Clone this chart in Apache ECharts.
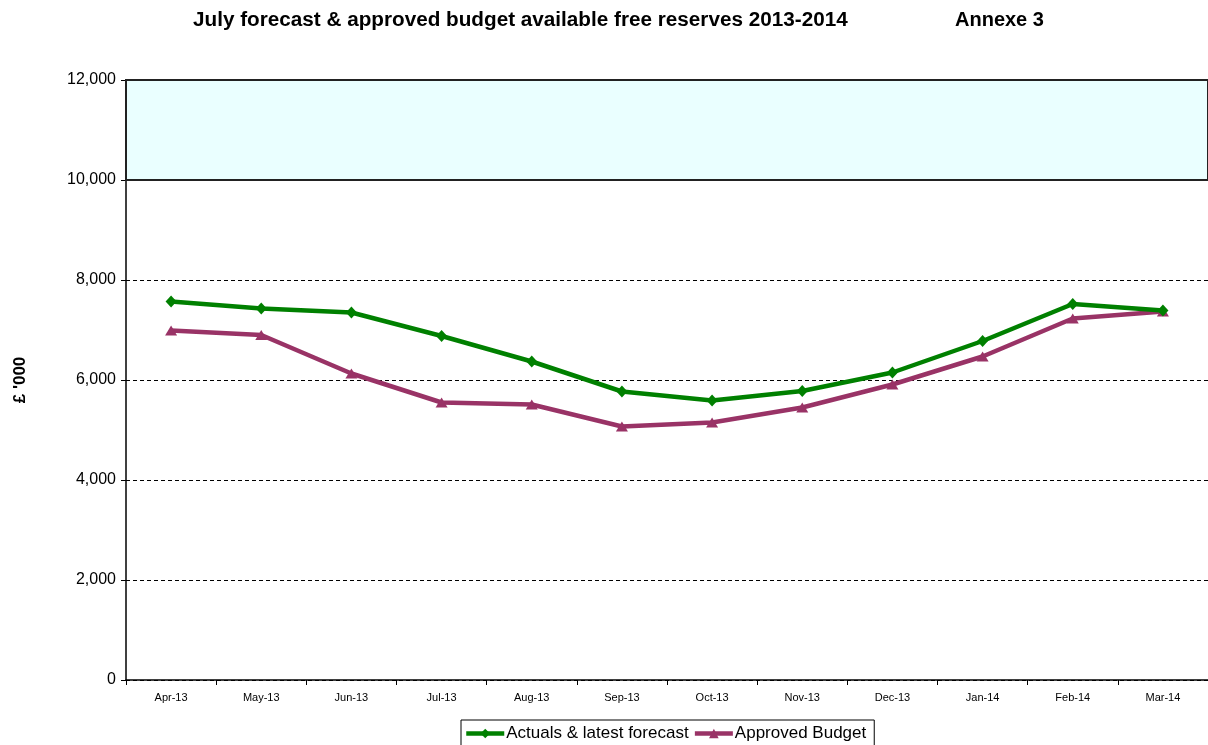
<!DOCTYPE html>
<html>
<head>
<meta charset="utf-8">
<script src="https://cdn.jsdelivr.net/npm/echarts@6/dist/echarts.min.js"></script>
<style>
  html, body { margin: 0; padding: 0; background: #fff; }
  #chart { width: 1208px; height: 745px; }
</style>
</head>
<body>
<div id="chart"></div>
<script>
// Month labels for the 2013-2014 financial year
const months = ['Apr-13', 'May-13', 'Jun-13', 'Jul-13', 'Aug-13', 'Sep-13',
                'Oct-13', 'Nov-13', 'Dec-13', 'Jan-14', 'Feb-14', 'Mar-14'];

// Available free reserves, £'000
const actualsForecast = [7570, 7430, 7350, 6880, 6370, 5770, 5590, 5780, 6150, 6780, 7520, 7390];
const approvedBudget  = [6990, 6900, 6130, 5550, 5510, 5070, 5150, 5450, 5910, 6470, 7230, 7370];

// Target reserve range shown as a shaded band
const bandLow = 10000;
const bandHigh = 12000;

const yTicks = { min: 0, max: 12000, interval: 2000 };

const font = '"Liberation Sans", Arial, sans-serif';

const chart = echarts.init(document.getElementById('chart'), null, { renderer: 'canvas' });

const headingStyle = {
  font: 'bold 20px ' + font,
  fill: '#000'
};

chart.setOption({
  animation: false,
  backgroundColor: '#ffffff',
  graphic: [
    {
      type: 'text', left: 193, top: 10, scaleX: 1.035, originX: 0,
      style: Object.assign({ text: 'July forecast & approved budget available free reserves 2013-2014' }, headingStyle)
    },
    {
      type: 'text', left: 955, top: 10,
      style: Object.assign({ text: 'Annexe 3' }, headingStyle)
    }
  ],
  grid: { left: 126, right: -3, top: 80, bottom: 65, containLabel: false },
  legend: {
    left: 461, top: 720,
    padding: [5, 8, 12, 3],
    itemGap: 4,
    itemWidth: 38,
    itemHeight: 12,
    borderColor: '#000',
    borderWidth: 1,
    lineStyle: { width: 4.5 },
    textStyle: { fontFamily: font, fontSize: 17, color: '#000', padding: [0, 0, 0, -3] },
    data: ['Actuals & latest forecast', 'Approved Budget']
  },
  xAxis: {
    type: 'category',
    data: months,
    boundaryGap: true,
    axisLine: { show: true, lineStyle: { color: '#000', width: 1.5 } },
    axisTick: { show: true, alignWithLabel: false, length: 5, lineStyle: { color: '#000' } },
    axisLabel: { fontFamily: font, fontSize: 11, color: '#000', margin: 12 },
    splitLine: { show: false }
  },
  yAxis: {
    type: 'value',
    min: yTicks.min, max: yTicks.max, interval: yTicks.interval,
    name: "£ '000",
    nameLocation: 'middle',
    nameGap: 97,
    nameRotate: 90,
    nameTextStyle: { fontFamily: font, fontSize: 17, fontWeight: 'bold', color: '#000' },
    axisLine: { show: true, lineStyle: { color: '#000', width: 1.5 } },
    axisTick: { show: true, inside: false, length: 5, lineStyle: { color: '#000' } },
    axisLabel: {
      fontFamily: font, fontSize: 16, color: '#000', margin: 10,
      formatter: v => v.toLocaleString('en-GB')
    },
    splitLine: { show: true, lineStyle: { color: '#000', type: [4, 3], width: 1 } }
  },
  series: [
    {
      name: 'Actuals & latest forecast',
      type: 'line',
      data: actualsForecast,
      symbol: 'diamond',
      symbolSize: [11, 12],
      lineStyle: { color: '#008000', width: 4.5 },
      itemStyle: { color: '#008000' },
      z: 3,
      markArea: {
        silent: true,
        itemStyle: { color: '#eaffff', borderColor: '#222', borderWidth: 2 },
        data: [[{ yAxis: bandLow }, { yAxis: bandHigh }]]
      }
    },
    {
      name: 'Approved Budget',
      type: 'line',
      data: approvedBudget,
      symbol: 'triangle',
      symbolSize: [12, 10],
      lineStyle: { color: '#993366', width: 4.5 },
      itemStyle: { color: '#993366' },
      z: 2
    }
  ]
});
</script>
</body>
</html>
